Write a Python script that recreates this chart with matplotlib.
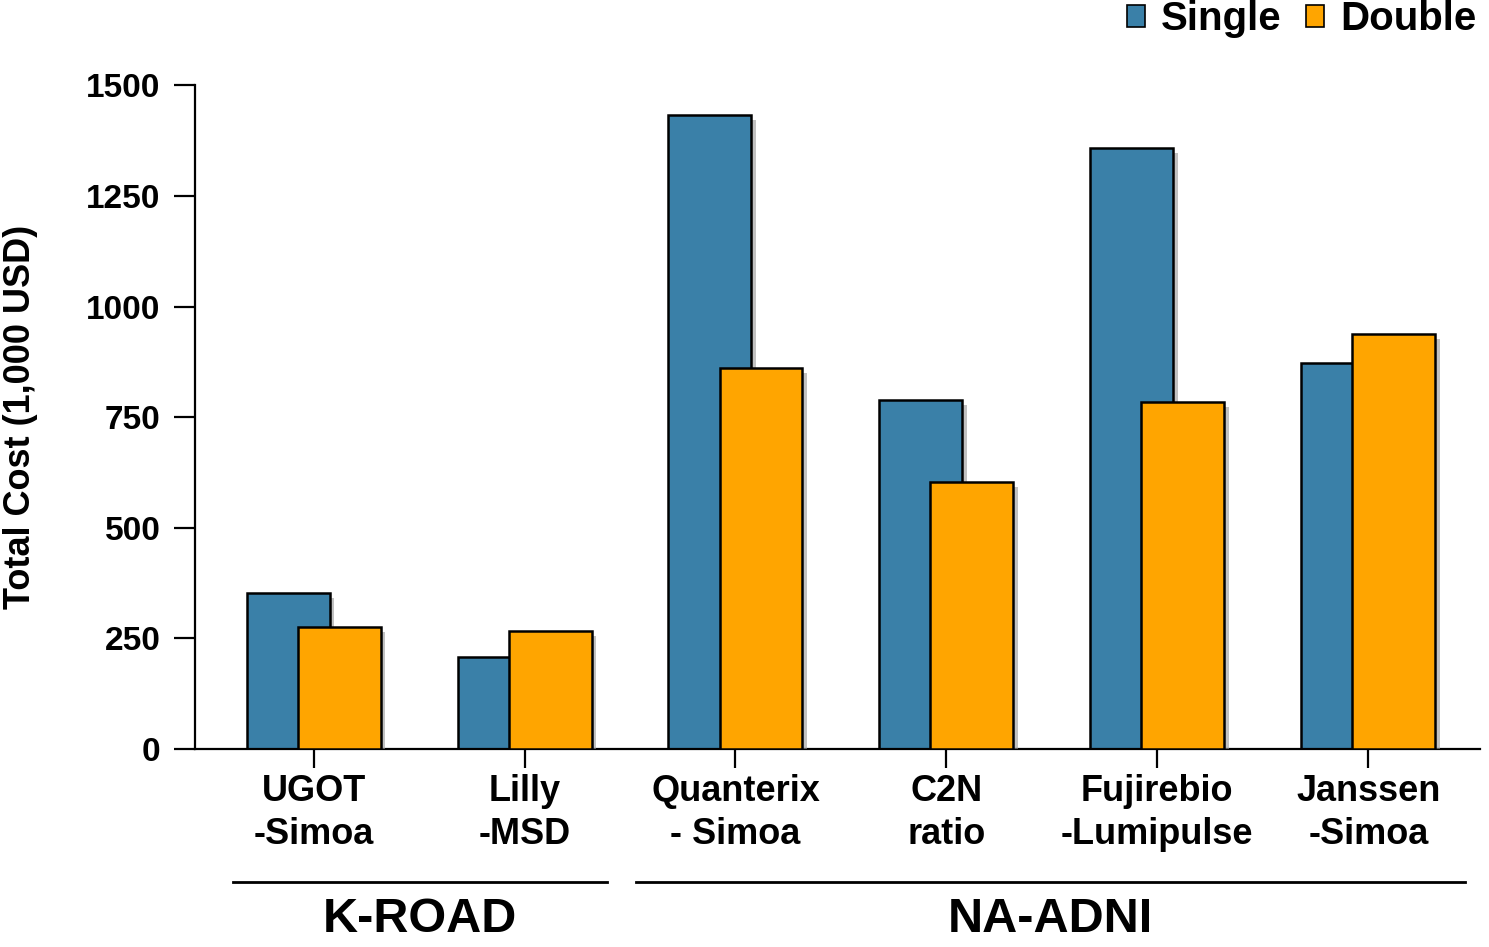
import matplotlib
matplotlib.use("Agg")
import matplotlib.pyplot as plt
import matplotlib.patheffects as pe
import matplotlib.transforms as mtransforms
from matplotlib.lines import Line2D
import numpy as np

categories = ["UGOT\n-Simoa", "Lilly\n-MSD", "Quanterix\n- Simoa", "C2N\nratio",
              "Fujirebio\n-Lumipulse", "Janssen\n-Simoa"]
single = [352, 208, 1432, 788, 1358, 872]
double = [276, 267, 861, 603, 784, 937]
yticks = [0, 250, 500, 750, 1000, 1250, 1500]
groups = ["K-ROAD", "NA-ADNI"]
group_spans = [(-0.38, 1.39), (1.53, 5.46)]

BLUE = "#3A80A8"
ORANGE = "#FFA500"

plt.rcParams['font.family'] = ['Liberation Sans', 'DejaVu Sans']

fig = plt.figure(figsize=(14.89, 9.47), dpi=100)
ax = fig.add_axes([0.131, 0.209, 0.863, 0.701])

x = np.arange(len(categories))
w = 0.393
off = 0.121
shadow = [pe.SimplePatchShadow(offset=(3.5, -3.5), shadow_rgbFace="#999999", alpha=0.6), pe.Normal()]
b1 = ax.bar(x - off, single, width=w, color=BLUE, edgecolor="black", linewidth=1.8, zorder=2)
b2 = ax.bar(x + off, double, width=w, color=ORANGE, edgecolor="black", linewidth=1.8, zorder=3)
for b in list(b1) + list(b2):
    b.set_path_effects(shadow)

ax.set_xlim(-0.562, 5.53)
ax.set_ylim(0, 1500)
ax.set_yticks(yticks)
ax.set_yticklabels([str(v) for v in yticks], fontsize=24, fontweight="bold")
ax.set_xticks(x)
ax.set_xticklabels(categories, fontsize=26, fontweight="bold", linespacing=1.3)
ax.tick_params(axis="y", length=15, width=1.6, pad=10)
ax.tick_params(axis="x", length=14, width=1.6, pad=4)
for s in ["top", "right"]:
    ax.spines[s].set_visible(False)
for s in ["left", "bottom"]:
    ax.spines[s].set_linewidth(1.6)

ax.set_ylabel("Total Cost (1,000 USD)", fontsize=26, fontweight="bold")
ax.yaxis.set_label_coords(-0.122, 0.5)

trans = mtransforms.blended_transform_factory(ax.transData, fig.transFigure)
for name, (a, b) in zip(groups, group_spans):
    ax.add_line(Line2D([a, b], [0.0686, 0.0686], transform=trans, color="black",
                       linewidth=2, clip_on=False))
    ax.text((a + b) / 2, 0.016, name, transform=trans, ha="center", va="baseline",
            fontsize=35, fontweight="bold")

handles = [plt.Rectangle((0, 0), 1, 1, facecolor=BLUE, edgecolor="black", linewidth=1.2),
           plt.Rectangle((0, 0), 1, 1, facecolor=ORANGE, edgecolor="black", linewidth=1.2)]
fig.legend(handles, ["Single", "Double"], loc="upper right", bbox_to_anchor=(1.016, 1.038),
           ncol=2, frameon=False, prop={"size": 29, "weight": "bold"},
           handlelength=0.45, handleheight=0.45, handletextpad=0.4, columnspacing=0.6)

fig.savefig("out.png", dpi=100)
